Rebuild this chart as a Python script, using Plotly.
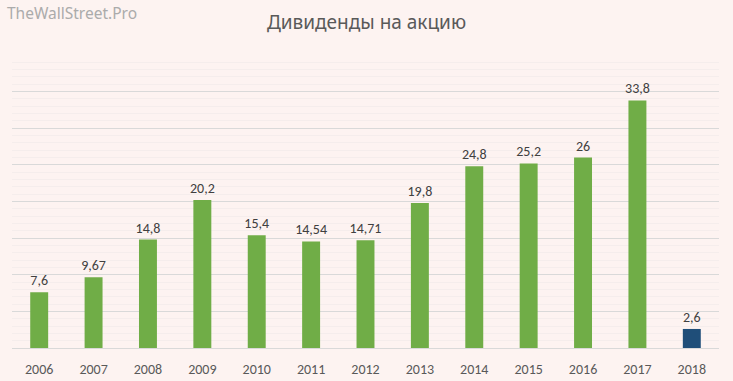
import plotly.graph_objects as go

years = ["2006", "2007", "2008", "2009", "2010", "2011", "2012", "2013", "2014", "2015", "2016", "2017", "2018"]
dividends = [7.6, 9.67, 14.8, 20.2, 15.4, 14.54, 14.71, 19.8, 24.8, 25.2, 26, 33.8, 2.6]
labels = ["7,6", "9,67", "14,8", "20,2", "15,4", "14,54", "14,71", "19,8", "24,8", "25,2", "26", "33,8", "2,6"]
colors = ["#70AD47"] * 12 + ["#1F4E79"]

bg = "#FDF3F1"
font_main = "Carlito, Lato, Liberation Sans, sans-serif"

fig = go.Figure(go.Bar(
    x=years, y=dividends, marker_color=colors, marker_line_width=0,
    text=labels, textposition="outside", cliponaxis=False,
    textangle=0, constraintext="none",
    textfont=dict(family=font_main, size=14, color="#404040"),
))

fig.update_layout(
    width=733, height=381,
    paper_bgcolor=bg, plot_bgcolor=bg,
    margin=dict(l=12, r=14, t=55, b=33, autoexpand=False),
    bargap=0.67,
    showlegend=False,
    title=dict(text="Дивиденды на акцию", x=0.5, xanchor="center", y=0.942, yanchor="middle",
               font=dict(family="Noto Sans, sans-serif", size=19, color="#595959")),
    font=dict(family=font_main, color="#595959"),
    annotations=[dict(text="TheWallStreet.Pro", xref="paper", yref="paper", x=-0.01, y=1.145,
                      xanchor="left", yanchor="middle", showarrow=False,
                      font=dict(family="Noto Sans, sans-serif", size=15.5, color="#ABABAB"))],
)
fig.update_xaxes(showline=True, linecolor="#D9D9D9", linewidth=1, ticks="",
                 ticklabelstandoff=8, automargin=False,
                 tickfont=dict(family=font_main, size=14, color="#595959"), fixedrange=True)
fig.update_yaxes(range=[0, 40], dtick=5, showticklabels=False, showgrid=True, automargin=False,
                 gridcolor="#D9D9D9", gridwidth=1, zeroline=False, fixedrange=True,
                 minor=dict(dtick=1, showgrid=True, gridcolor="#F5EDEC", gridwidth=1))

fig.write_html("out.html", config={"displayModeBar": False},
               post_script="document.body.style.margin='0';document.body.style.background='%s';" % bg)
